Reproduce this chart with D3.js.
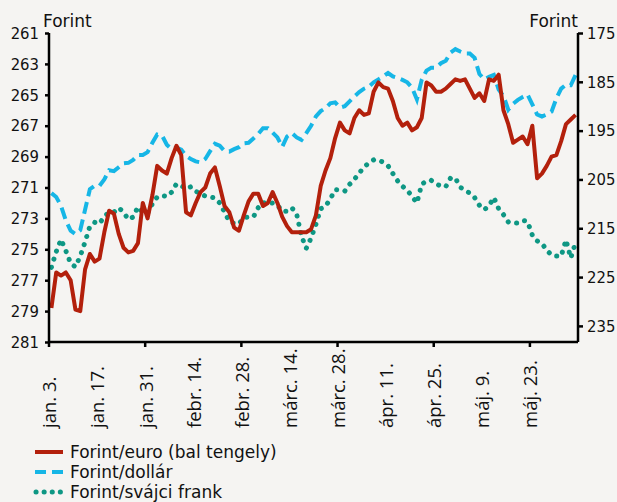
<!DOCTYPE html>
<html>
<head>
<meta charset="utf-8">
<script src="https://cdn.jsdelivr.net/npm/d3@7"></script>
<style>
    body { margin: 0; background: #f5f4f2; }
    svg { display: block; }
    .num { font-family: "DejaVu Sans Condensed", "DejaVu Sans", sans-serif; font-size: 16.5px; fill: #111; }
    .lbl { font-family: "Open Sans", sans-serif; font-size: 18.5px; fill: #111; }
    .ttl { font-family: "DejaVu Sans", sans-serif; font-size: 17px; fill: #111; }
</style>
</head>
<body>
<svg id="chart" width="617" height="502"></svg>
<script>
// munkanapok jan. 3. - jún. 3.
var dayLabels = ["jan. 3.", "jan. 17.", "jan. 31.", "febr. 14.", "febr. 28.", "márc. 14.",
    "márc. 28.", "ápr. 11.", "ápr. 25.", "máj. 9.", "máj. 23."];

var euro = [278.8, 276.5, 276.7, 276.5, 277.0, 278.9, 279.0, 276.3, 275.3, 275.8,
    275.6, 273.9, 272.5, 272.7, 274.0, 274.9, 275.2, 275.1, 274.6, 272.0,
    273.0, 271.5, 269.6, 269.9, 270.1, 269.1, 268.3, 268.9, 272.6, 272.8,
    272.0, 271.3, 271.0, 270.1, 269.7, 270.9, 272.2, 272.6, 273.6, 273.8,
    272.8, 271.9, 271.4, 271.4, 272.2, 272.0, 271.3, 272.0, 272.9, 273.5,
    273.9, 273.9, 273.9, 273.9, 273.7, 272.8, 270.9, 269.9, 269.1, 267.8,
    266.8, 267.3, 267.5, 266.5, 266.0, 266.3, 266.2, 264.8, 264.2, 264.5,
    264.6, 265.4, 266.5, 267.0, 266.8, 267.3, 267.1, 266.5, 264.2, 264.4,
    264.8, 264.8, 264.6, 264.3, 264.0, 264.1, 264.0, 264.6, 265.2, 264.9,
    265.4, 264.0, 264.1, 263.7, 266.0, 266.9, 268.1, 267.9, 267.7, 268.2,
    267.0, 270.4, 270.1, 269.6, 269.0, 268.9, 268.0, 266.9, 266.6, 266.3];

var dollar = [207.8, 208.6, 210.4, 213.4, 215.5, 216.2, 215.4, 211.2, 207.0, 206.3,
    206.3, 205.0, 203.1, 203.3, 202.5, 201.7, 201.6, 201.0, 200.0, 200.0,
    199.4, 197.5, 195.8, 196.0, 197.9, 198.8, 198.5, 198.9, 200.2, 200.8,
    201.3, 201.5, 200.8, 199.2, 197.7, 198.1, 199.2, 199.3, 198.8, 198.4,
    197.6, 197.5, 196.6, 195.7, 194.5, 194.5, 195.4, 196.4, 198.3, 196.2,
    195.5, 196.4, 196.9, 195.5, 194.0, 192.1, 191.0, 190.4, 189.4, 189.2,
    190.3, 190.0, 189.0, 188.0, 187.1, 186.4, 186.0, 185.1, 184.5, 183.9,
    183.2, 183.9, 184.2, 184.6, 185.1, 186.2, 188.6, 184.6, 182.7, 182.1,
    182.1, 181.2, 180.7, 179.0, 178.3, 178.8, 179.2, 179.2, 180.1, 183.4,
    184.5, 184.0, 183.6, 186.6, 187.9, 190.7, 189.5, 188.7, 188.1, 187.6,
    189.6, 191.7, 192.1, 191.7, 191.1, 188.4, 186.4, 185.6, 185.7, 183.6];

var frank = [223.0, 219.8, 217.3, 219.6, 222.2, 222.9, 220.7, 217.8, 214.6, 213.8,
    214.1, 212.5, 211.8, 211.7, 210.8, 211.7, 213.2, 212.7, 210.6, 211.8,
    211.9, 210.0, 208.6, 208.3, 208.5, 207.6, 205.9, 206.3, 206.9, 206.5,
    207.4, 208.0, 208.4, 208.6, 208.8, 209.8, 211.7, 213.6, 214.0, 214.1,
    212.8, 212.7, 212.7, 210.8, 209.7, 210.1, 209.8, 210.3, 211.5, 211.5,
    210.8, 212.1, 216.6, 219.1, 217.0, 214.2, 211.0, 210.5, 209.0, 207.1,
    207.2, 207.4, 206.0, 205.0, 203.7, 202.5, 201.6, 201.0, 201.0, 201.5,
    202.2, 203.8, 205.3, 206.4, 207.2, 208.5, 209.8, 206.0, 205.3, 205.2,
    205.9, 206.4, 206.5, 204.7, 204.7, 206.6, 207.2, 207.8, 208.7, 210.3,
    211.2, 210.4, 208.7, 211.0, 212.2, 213.7, 213.9, 213.9, 213.4, 213.6,
    216.4, 217.6, 218.1, 219.5, 220.5, 220.7, 220.7, 217.4, 221.1, 217.9];

var leftTicks = [261, 263, 265, 267, 269, 271, 273, 275, 277, 279, 281];
var rightTicks = [175, 185, 195, 205, 215, 225, 235];

var seriesNames = ["Forint/euro (bal tengely)", "Forint/dollár", "Forint/svájci frank"];

var plotL = 49, plotR = 578, plotT = 33, plotB = 342;

var svg = d3.select("svg#chart");

var x = d3.scaleBand()
    .domain(d3.range(euro.length))
    .range([plotL, plotR]);

var yL = d3.scaleLinear().domain([261, 281]).range([plotT, plotB]);
var yR = d3.scaleLinear().domain([175, 238.3]).range([plotT, plotB]);

var px = i => x(i) + x.bandwidth() / 2;

// vonalak
var lineL = d3.line().x((d, i) => px(i)).y(d => yL(d));
var lineR = d3.line().x((d, i) => px(i)).y(d => yR(d));

svg.append("path")
    .datum(frank)
    .attr("d", lineR)
    .style("fill", "none")
    .style("stroke", "#0e9784")
    .style("stroke-width", 5)
    .style("stroke-linecap", "round")
    .style("stroke-dasharray", "0.1,8.4");

svg.append("path")
    .datum(dollar)
    .attr("d", lineR)
    .style("fill", "none")
    .style("stroke", "#16b6e6")
    .style("stroke-width", 4)
    .style("stroke-dasharray", "12,6");

svg.append("path")
    .datum(euro)
    .attr("d", lineL)
    .style("fill", "none")
    .style("stroke", "#b3200c")
    .style("stroke-width", 4)
    .style("stroke-linejoin", "round");

// tengelyek
var axL = svg.append("g")
    .attr("transform", "translate(" + plotL + ",0)")
    .call(d3.axisLeft(yL).tickValues(leftTicks).tickSize(4).tickPadding(6).tickFormat(d3.format("d")));

var axR = svg.append("g")
    .attr("transform", "translate(" + plotR + ",0)")
    .call(d3.axisRight(yR).tickValues(rightTicks).tickSize(5).tickPadding(4).tickFormat(d3.format("d")));

[axL, axR].forEach(function (g) {
    g.select(".domain").attr("stroke", "#000").attr("stroke-width", 2.5)
        .attr("d", "M0," + plotT + "V" + plotB);
    g.selectAll(".tick line").attr("stroke", "#000").attr("stroke-width", 2.5);
    g.selectAll(".tick text").attr("class", "num");
    g.attr("font-family", null).attr("font-size", null);
});

svg.append("line")
    .attr("x1", plotL).attr("x2", plotR)
    .attr("y1", plotB).attr("y2", plotB)
    .style("stroke", "#000")
    .style("stroke-width", 2.5);

svg.selectAll("line.xtick")
    .data(d3.range(0, euro.length, 20))
    .enter()
    .append("line")
    .attr("class", "xtick")
    .attr("x1", d => x(d)).attr("x2", d => x(d))
    .attr("y1", plotB).attr("y2", plotB + 5)
    .style("stroke", "#000")
    .style("stroke-width", 2.5);

svg.selectAll("text.lbl")
    .data(dayLabels)
    .enter()
    .append("text")
    .attr("class", "lbl")
    .attr("transform", (d, i) => "translate(" + (px(i * 10) + 5) + ",428) rotate(-90)")
    .text(d => d);

svg.append("text").attr("class", "ttl").attr("x", 43).attr("y", 27).text("Forint");
svg.append("text").attr("class", "ttl").attr("x", 578).attr("y", 27).attr("text-anchor", "end").text("Forint");

// jelmagyarazat
var legend = svg.append("g").attr("transform", "translate(35,452)");
var styles = [
    { stroke: "#b3200c", width: 4, dash: null, cap: "butt", x1: 0, x2: 28 },
    { stroke: "#16b6e6", width: 4, dash: "11,6", cap: "butt", x1: 0, x2: 28 },
    { stroke: "#0e9784", width: 5, dash: "0.1,8", cap: "round", x1: 1, x2: 26 }
];

seriesNames.forEach(function (name, i) {
    var s = styles[i];
    legend.append("line")
        .attr("x1", s.x1).attr("x2", s.x2)
        .attr("y1", i * 20).attr("y2", i * 20)
        .style("stroke", s.stroke)
        .style("stroke-width", s.width)
        .style("stroke-linecap", s.cap)
        .style("stroke-dasharray", s.dash);
    legend.append("text")
        .attr("class", "ttl")
        .attr("x", 35)
        .attr("y", i * 20 + 6)
        .text(name);
});
</script>
</body>
</html>
